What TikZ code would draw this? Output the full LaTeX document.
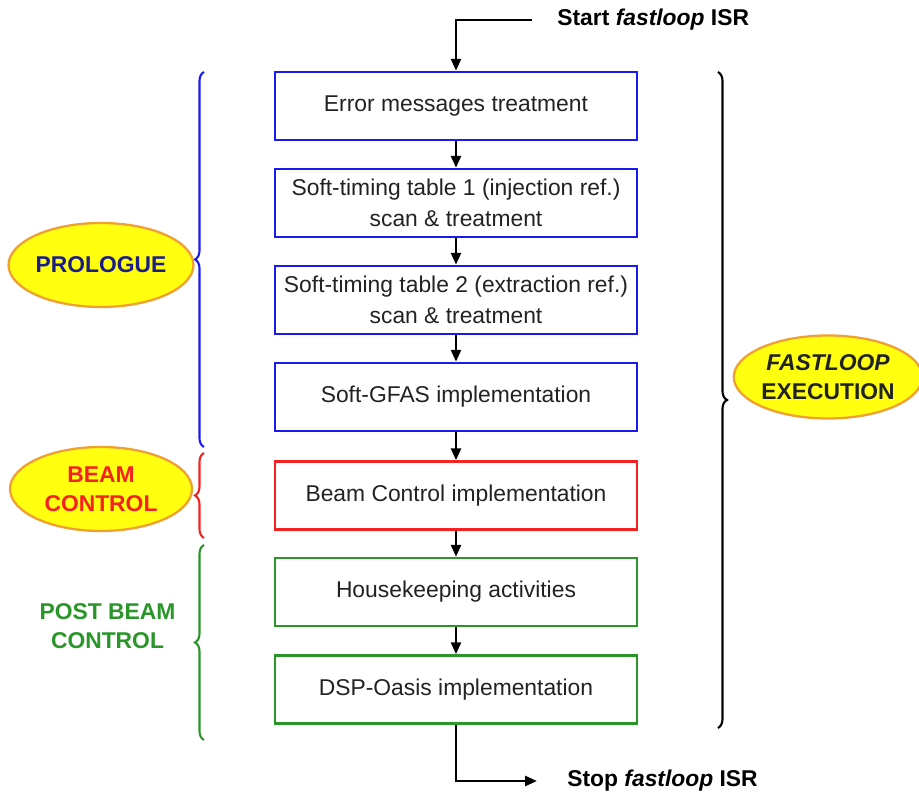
\documentclass[tikz,border=0pt]{standalone}
\usepackage{fontspec}
\setmainfont{Liberation Sans}
\usepackage{xcolor}
\usepackage{tikz}
\usetikzlibrary{arrows.meta,shapes.geometric,decorations.pathreplacing}
\definecolor{FLBlue}{HTML}{1A1AF0}
\definecolor{FLRed}{HTML}{F52020}
\definecolor{FLGreen}{HTML}{2A962A}
\definecolor{FLNavy}{HTML}{1C1C8A}
\definecolor{FLYellow}{HTML}{FFFF10}
\definecolor{FLOrange}{HTML}{F0A030}
\definecolor{FLText}{HTML}{222222}

\begin{document}
\begin{tikzpicture}[x=1cm,y=1cm,
  stepbox/.style={draw,line width=1.4pt,minimum width=7.24cm,minimum height=1.36cm,align=center,text=FLText,font=\fontsize{13}{17.5}\selectfont},
  flow/.style={line width=1.5pt,-{Triangle[length=0.24cm,width=0.2cm]}},
  bubble/.style={ellipse,draw=FLOrange,fill=FLYellow,line width=1.3pt,minimum width=3.64cm,minimum height=1.68cm,inner sep=0pt,align=center,font=\fontsize{13}{16.5}\selectfont\bfseries},
  bracket/.style={decorate,decoration={brace,amplitude=0.18cm},line width=1.2pt},
  isr/.style={anchor=west,inner sep=0pt,font=\fontsize{13}{16}\selectfont\bfseries}]
\path[use as bounding box] (0,0) rectangle (18.38,15.88);
% flow boxes
\node[stepbox,draw=FLBlue] (err) at (9.12,13.76) {Error messages treatment};
\node[stepbox,draw=FLBlue] (st1) at (9.12,11.82) {Soft-timing table 1 (injection ref.)\\scan \& treatment};
\node[stepbox,draw=FLBlue] (st2) at (9.12,9.88) {Soft-timing table 2 (extraction ref.)\\scan \& treatment};
\node[stepbox,draw=FLBlue] (gfas) at (9.12,7.94) {Soft-GFAS implementation};
\node[stepbox,draw=FLRed] (beam) at (9.12,5.97) {Beam Control implementation};
\node[stepbox,draw=FLGreen] (house) at (9.12,4.04) {Housekeeping activities};
\node[stepbox,draw=FLGreen] (dsp) at (9.12,2.09) {DSP-Oasis implementation};
\foreach \a/\b in {err/st1,st1/st2,st2/gfas,gfas/beam,beam/house,house/dsp}
  \draw[flow] (\a) -- (\b);
% entry and exit
\node[isr] (start) at (11.14,15.48) {Start \textit{fastloop} ISR};
\coordinate (in) at (10.64,15.48);
\draw[flow] (in) -| (err);
\node[isr] (stop) at (11.34,0.26) {Stop \textit{fastloop} ISR};
\coordinate (out) at (10.74,0.26);
\draw[flow] (dsp) |- (out);
% phases
\draw[bracket,FLBlue] (4.08,6.94) -- (4.08,14.44);
\draw[bracket,FLRed] (4.08,5.12) -- (4.08,6.82);
\draw[bracket,FLGreen] (4.08,1.08) -- (4.08,4.98);
\node[bubble,text=FLNavy] (pro) at (2.02,10.58) {PROLOGUE};
\node[bubble,text=FLRed] (bc) at (2.02,6.10) {BEAM\\CONTROL};
\node[align=center,text=FLGreen,font=\fontsize{13}{16.5}\selectfont\bfseries] (post) at (2.15,3.35) {POST BEAM\\CONTROL};
\draw[bracket] (14.36,14.44) -- (14.36,1.32);
\node[bubble,text=FLText,minimum width=3.56cm,minimum height=1.66cm] (exec) at (16.56,8.34) {\textit{FASTLOOP}\\EXECUTION};
\end{tikzpicture}
\end{document}
